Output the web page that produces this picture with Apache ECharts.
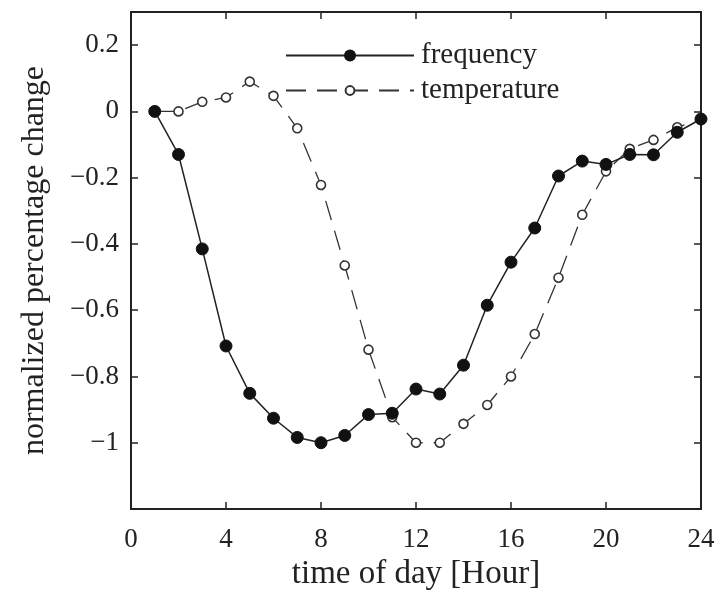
<!DOCTYPE html>
<html>
<head>
    <meta charset="utf-8">
    <script type="text/javascript" src="https://cdn.jsdelivr.net/npm/echarts@6/dist/echarts.min.js"></script>
    <title>frequency vs temperature</title>
</head>
<body style="margin:0;background:#fff;">
    <div id="container" style="width:723px;height:596px;"></div>
    <script type="text/javascript">
    // data
    var hours = [1, 2, 3, 4, 5, 6, 7, 8, 9, 10, 11, 12, 13, 14, 15, 16, 17, 18, 19, 20, 21, 22, 23, 24];
    var frequency = [0, -0.13, -0.415, -0.708, -0.851, -0.926, -0.984, -1.0, -0.978, -0.915, -0.911, -0.838,
        -0.853, -0.766, -0.585, -0.455, -0.352, -0.195, -0.150, -0.160, -0.130, -0.131, -0.063, -0.023];
    var temperature = [0, 0, 0.029, 0.042, 0.090, 0.047, -0.051, -0.222, -0.465, -0.719, -0.923, -1.0,
        -1.0, -0.943, -0.886, -0.800, -0.672, -0.502, -0.312, -0.181, -0.113, -0.086, -0.048, -0.023];
    var xTicks = [0, 4, 8, 12, 16, 20, 24];
    var yTicks = [-1, -0.8, -0.6, -0.4, -0.2, 0, 0.2];

    var font = 'Liberation Serif';
    var ink = '#222';

    function pairs(ys) {
        return hours.map(function (h, i) { return [h, ys[i]]; });
    }

    function yLabel(v) {
        var r = Math.round(v * 10) / 10;
        if (yTicks.indexOf(r) < 0) return '';
        return (r < 0 ? '\u2212' : '') + String(Math.abs(r));
    }

    // one legend per series so each marker gets its own size
    function legendFor(name, top, h) {
        return {
            orient: 'vertical',
            left: 280,
            top: top,
            itemWidth: 128,
            itemHeight: h,
            textStyle: { fontFamily: font, fontSize: 29, color: ink, lineHeight: 28, padding: [0, 0, 0, 2] },
            data: [name]
        };
    }

    var myChart = echarts.init(document.getElementById('container'));

    var frame = { show: true, onZero: false, lineStyle: { color: ink, width: 2 } };
    var ticks = { show: true, inside: true, length: 7, lineStyle: { color: ink, width: 1.5 } };

    var option = {
        animation: false,
        grid: { left: 131, right: 22, top: 12, bottom: 85 },
        legend: [legendFor('frequency', 36, 15), legendFor('temperature', 71, 11)],
        xAxis: [{
            type: 'value',
            min: xTicks[0],
            max: xTicks[xTicks.length - 1],
            interval: 4,
            name: 'time of day [Hour]',
            nameLocation: 'middle',
            nameGap: 49,
            nameTextStyle: { fontFamily: font, fontSize: 33, color: ink },
            axisLine: frame,
            axisTick: ticks,
            axisLabel: { fontFamily: font, fontSize: 27, color: ink, margin: 17 },
            splitLine: { show: false }
        }, {
            type: 'value',
            position: 'top',
            min: xTicks[0],
            max: xTicks[xTicks.length - 1],
            interval: 4,
            axisLine: frame,
            axisTick: ticks,
            axisLabel: { show: false },
            splitLine: { show: false }
        }],
        yAxis: [{
            type: 'value',
            min: -1.2,
            max: 0.3,
            interval: 0.2,
            name: 'normalized percentage change',
            nameLocation: 'middle',
            nameGap: 80,
            nameTextStyle: { fontFamily: font, fontSize: 32, color: ink },
            axisLine: frame,
            axisTick: ticks,
            axisLabel: { fontFamily: font, fontSize: 27, color: ink, margin: 12, formatter: yLabel },
            splitLine: { show: false }
        }, {
            type: 'value',
            position: 'right',
            min: -1.2,
            max: 0.3,
            interval: 0.2,
            axisLine: frame,
            axisTick: ticks,
            axisLabel: { show: false },
            splitLine: { show: false }
        }],
        series: [{
            name: 'frequency',
            type: 'line',
            z: 4,
            xAxisIndex: 0,
            yAxisIndex: 0,
            data: pairs(frequency),
            symbol: 'circle',
            symbolSize: 12,
            lineStyle: { color: ink, width: 1.5 },
            itemStyle: { color: '#111', borderColor: '#111' }
        }, {
            name: 'temperature',
            type: 'line',
            z: 3,
            xAxisIndex: 0,
            yAxisIndex: 0,
            data: pairs(temperature),
            symbol: 'circle',
            symbolSize: 9,
            lineStyle: { color: '#333', width: 1.3, type: [20, 11] },
            itemStyle: { color: '#fff', borderColor: '#333', borderWidth: 1.6 }
        }]
    };

    myChart.setOption(option);
    </script>
</body>
</html>
